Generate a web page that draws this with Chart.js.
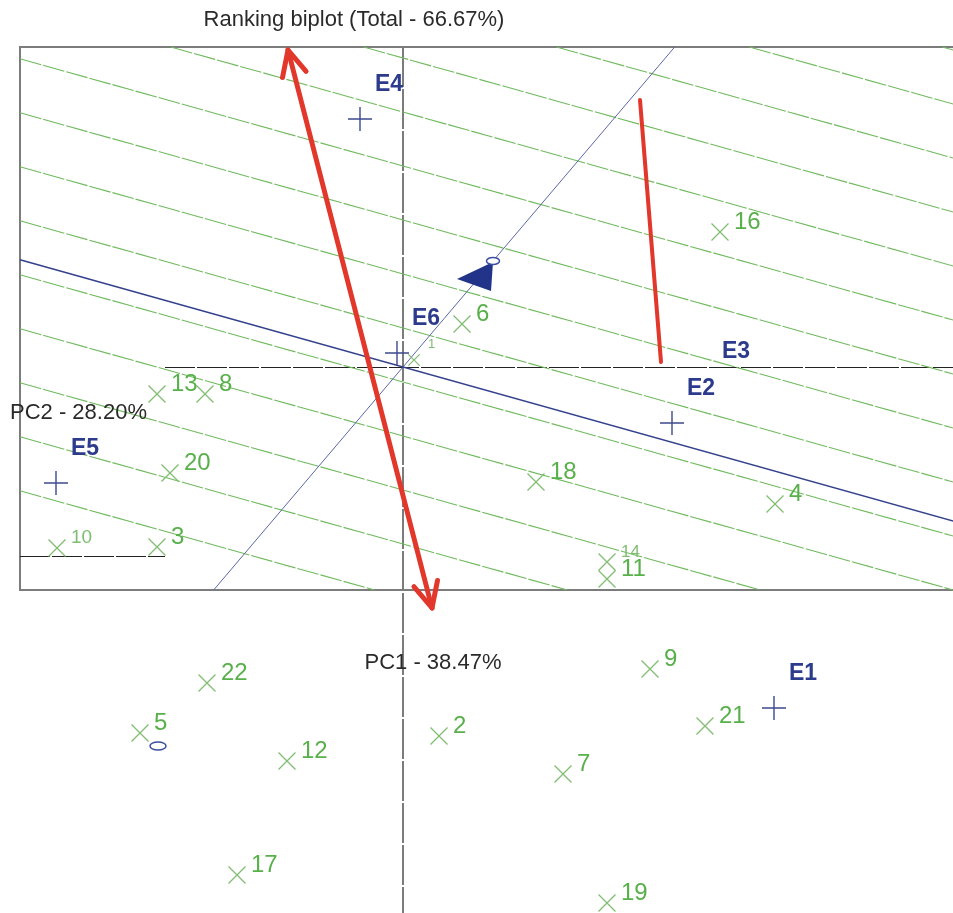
<!DOCTYPE html>
<html>
<head>
<meta charset="utf-8">
<script src="https://cdn.jsdelivr.net/npm/chart.js@4.4.1/dist/chart.umd.min.js"></script>
<style>
  body { margin: 0; background: #fff; overflow: hidden; }
  #wrap { width: 953px; height: 913px; }
</style>
</head>
<body>
<div id="wrap"><canvas id="biplot"></canvas></div>
<script>
// genotype scores (PC1, PC2)
const genotypes = ["1", "2", "3", "4", "5", "6", "7", "8", "9", "10", "11",
                   "12", "13", "14", "16", "17", "18", "19", "20", "21", "22"];
const genoPC1 = [0.22, 0.72, -4.92, 7.44, -5.26, 1.18, 3.20, -3.96, 4.94, -6.92, 4.08,
                 -2.32, -4.92, 4.08, 6.34, -3.32, 2.66, 4.08, -4.66, 6.04, -3.92];
const genoPC2 = [0.14, -7.38, -3.60, -2.74, -7.32, 0.86, -8.14, -0.54, -6.04, -3.62, -4.24,
                 -7.88, -0.54, -3.90, 2.70, -10.16, -2.30, -10.72, -2.12, -7.18, -6.32];

// environment scores (PC1, PC2)
const environments = ["E1", "E2", "E3", "E4", "E5", "E6"];
const envPC1 = [7.42, 5.38, 6.08, -0.86, -6.94, -0.12];
const envPC2 = [-6.82, -1.12, -0.38, 4.96, -2.32, 0.28];

// average environment (AEA) and the second small ellipse
const avgEnv = [1.80, 2.12];
const markO = [-4.90, -7.58];

// lines perpendicular to the AEA: common slope and their intercepts
const perpSlope = -0.28;
const perpOffsets = [9.42, 8.34, 7.26, 6.18, 5.10, 4.02, 2.94, 1.86, 0.78,
                     -0.30, -1.38, -2.46, -3.54, -4.62];

// hand-drawn red marks
const redArrow = [[-2.30, 6.34], [0.58, -4.82]];
const redLine = [[4.74, 5.34], [5.16, 0.10]];

const titleText = "Ranking biplot (Total - 66.67%)";
const pc1Text = "PC1 - 38.47%";
const pc2Text = "PC2 - 28.20%";

// plot frame and axis pieces
const frame = { left: -7.66, right: 11.2, top: 6.4, bottom: -4.46 };
const axisBreakX = -4.76;
const lowerAxisY = -3.78;

const smallLabels = { "1": 13, "10": 19, "14": 17 };
const FONT = "'Liberation Sans', Arial, sans-serif";

function clipLine(m, b) {
  let xa = frame.left, xb = frame.right;
  if (m !== 0) {
    const x1 = (frame.top - b) / m, x2 = (frame.bottom - b) / m;
    xa = Math.max(xa, Math.min(x1, x2));
    xb = Math.min(xb, Math.max(x1, x2));
  }
  if (xa >= xb) return null;
  return [{ x: xa, y: m * xa + b }, { x: xb, y: m * xb + b }];
}

const lineSets = [];
perpOffsets.forEach(b => {
  const seg = clipLine(perpSlope, b);
  if (seg) lineSets.push({
    type: "line", data: seg, borderColor: "#70ba5e", borderWidth: 1.1,
    borderDash: [22, 2], pointRadius: 0, order: 5
  });
});
lineSets.push({
  type: "line", data: clipLine(perpSlope, 0), borderColor: "#34428e",
  borderWidth: 1.6, pointRadius: 0, order: 4
});
lineSets.push({
  type: "line", data: clipLine(avgEnv[1] / avgEnv[0], 0), borderColor: "#5a66a8",
  borderWidth: 1, pointRadius: 0, order: 4
});

const overlay = {
  id: "overlay",
  beforeDatasetsDraw(chart) {
    const { ctx, scales: { x, y } } = chart;
    const X = v => x.getPixelForValue(v), Y = v => y.getPixelForValue(v);
    ctx.save();
    // frame
    ctx.strokeStyle = "#7c7c7c";
    ctx.lineWidth = 2;
    ctx.strokeRect(X(frame.left), Y(frame.top), X(frame.right) - X(frame.left), Y(frame.bottom) - Y(frame.top));
    // vertical axis runs past the frame to the bottom
    ctx.setLineDash([40, 2]);
    ctx.beginPath();
    ctx.moveTo(X(0), Y(frame.top));
    ctx.lineTo(X(0), chart.chartArea.bottom);
    ctx.stroke();
    // horizontal axis pieces
    ctx.strokeStyle = "#222";
    ctx.lineWidth = 1;
    ctx.setLineDash([30, 2]);
    const y0 = Math.round(Y(0)) + 0.5, y1 = Math.round(Y(lowerAxisY)) + 0.5;
    ctx.beginPath();
    ctx.moveTo(X(axisBreakX), y0);
    ctx.lineTo(X(frame.right), y0);
    ctx.moveTo(X(frame.left), y1);
    ctx.lineTo(X(axisBreakX), y1);
    ctx.stroke();
    ctx.restore();
  },
  afterDatasetsDraw(chart) {
    const { ctx, scales: { x, y } } = chart;
    const X = v => x.getPixelForValue(v), Y = v => y.getPixelForValue(v);
    ctx.save();
    ctx.textBaseline = "middle";
    ctx.textAlign = "left";

    // genotype labels
    genotypes.forEach((g, i) => {
      const size = smallLabels[g] || 24;
      ctx.font = size + "px " + FONT;
      ctx.fillStyle = smallLabels[g] ? "#7fbd70" : "#58b04a";
      const dy = g === "1" ? -16 : -10;
      ctx.fillText(g, X(genoPC1[i]) + 14, Y(genoPC2[i]) + dy);
    });

    // environment labels
    ctx.font = "bold 23px " + FONT;
    ctx.fillStyle = "#2d3b8c";
    environments.forEach((e, i) => {
      ctx.fillText(e, X(envPC1[i]) + 15, Y(envPC2[i]) - 34);
    });

    // average environment marker and arrowhead
    const ax = X(avgEnv[0]), ay = Y(avgEnv[1]);
    ctx.fillStyle = "#22338a";
    ctx.beginPath();
    ctx.moveTo(ax - 36, ay + 18);
    ctx.lineTo(ax, ay + 1);
    ctx.lineTo(ax - 2, ay + 30);
    ctx.closePath();
    ctx.fill();
    ctx.strokeStyle = "#3a4fa0";
    ctx.lineWidth = 1.5;
    ctx.fillStyle = "#fff";
    [[ax, ay, 6.5, 3.5], [X(markO[0]), Y(markO[1]), 8, 4]].forEach(([cx, cy, rx, ry]) => {
      ctx.beginPath();
      ctx.ellipse(cx, cy, rx, ry, 0, 0, Math.PI * 2);
      ctx.fill();
      ctx.stroke();
    });

    // red marks
    ctx.strokeStyle = "#e2372b";
    ctx.lineWidth = 5;
    ctx.lineCap = "round";
    ctx.lineJoin = "round";
    const p0 = [X(redArrow[0][0]), Y(redArrow[0][1])];
    const p1 = [X(redArrow[1][0]), Y(redArrow[1][1])];
    ctx.beginPath();
    ctx.moveTo(p0[0], p0[1]);
    ctx.lineTo(p1[0], p1[1]);
    ctx.stroke();
    const head = (tip, from) => {
      const ang = Math.atan2(from[1] - tip[1], from[0] - tip[0]);
      ctx.beginPath();
      ctx.moveTo(tip[0] + 28 * Math.cos(ang - 0.45), tip[1] + 28 * Math.sin(ang - 0.45));
      ctx.lineTo(tip[0], tip[1]);
      ctx.lineTo(tip[0] + 28 * Math.cos(ang + 0.45), tip[1] + 28 * Math.sin(ang + 0.45));
      ctx.stroke();
    };
    head(p0, p1);
    head(p1, p0);
    ctx.lineWidth = 4;
    ctx.beginPath();
    ctx.moveTo(X(redLine[0][0]), Y(redLine[0][1]));
    ctx.lineTo(X(redLine[1][0]), Y(redLine[1][1]));
    ctx.stroke();

    // title and axis captions
    ctx.fillStyle = "#2a2a2a";
    ctx.font = "22px " + FONT;
    ctx.textAlign = "center";
    ctx.fillText(titleText, 354, 20);
    ctx.fillText(pc1Text, X(0.6), Y(-5.92));
    ctx.textAlign = "left";
    ctx.fillText(pc2Text, X(-7.86), Y(-0.92));
    ctx.restore();
  }
};

new Chart(document.getElementById("biplot"), {
  type: "scatter",
  data: {
    datasets: [
      {
        label: "Genotypes",
        data: genotypes.map((g, i) => ({ x: genoPC1[i], y: genoPC2[i] })),
        pointStyle: "crossRot",
        pointRadius: genotypes.map(g => (g === "1" ? 8 : 12)),
        borderColor: "#82bd74",
        borderWidth: 1.3,
        clip: false,
        order: 1
      },
      {
        label: "Environments",
        data: environments.map((e, i) => ({ x: envPC1[i], y: envPC2[i] })),
        pointStyle: "cross",
        pointRadius: environments.map(e => (e === "E3" ? 0 : 12)),
        borderColor: "#3c4a8c",
        borderWidth: 1.4,
        clip: false,
        order: 0
      },
      ...lineSets
    ]
  },
  options: {
    responsive: true,
    maintainAspectRatio: false,
    animation: false,
    layout: { padding: 0, autoPadding: false },
    plugins: { legend: { display: false }, tooltip: { enabled: false } },
    scales: {
      x: { type: "linear", display: false, min: -8.06, max: 11.0 },
      y: { type: "linear", display: false, min: -10.92, max: 7.34 }
    }
  },
  plugins: [overlay]
});
</script>
</body>
</html>
